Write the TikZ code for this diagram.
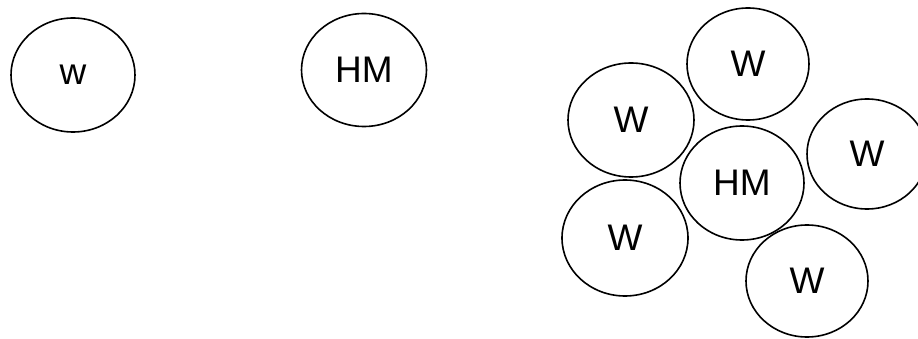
\documentclass[tikz,border=0pt]{standalone}
\usepackage{fontspec}
\setmainfont{Liberation Sans}
\usetikzlibrary{shapes.geometric}
\begin{document}
\begin{tikzpicture}[x=1pt,y=-1pt,
  cell/.style={draw, ellipse, line width=1.6pt, inner sep=0pt,
    minimum width=124pt, minimum height=114pt, font=\fontsize{37}{40}\selectfont}]
\clip (0,0) rectangle (918,339);
\fill[white] (0,0) rectangle (918,339);
\node[cell] (w0) at (73,75) {w};
\node[cell, minimum width=125pt, minimum height=113pt] (hm0) at (364,70) {HM};
\node[cell, minimum width=122pt, minimum height=112pt] (wt) at (748,64) {W};
\node[cell, minimum width=126pt] (wl) at (631,120) {W};
\node[cell] (hm) at (742,183) {HM};
\node[cell, minimum width=120pt, minimum height=110pt] (wr) at (867,154) {W};
\node[cell, minimum width=126pt, minimum height=116pt] (wbl) at (625,238) {W};
\node[cell, minimum width=122pt, minimum height=112pt] (wb) at (807,281) {W};
\end{tikzpicture}
\end{document}
